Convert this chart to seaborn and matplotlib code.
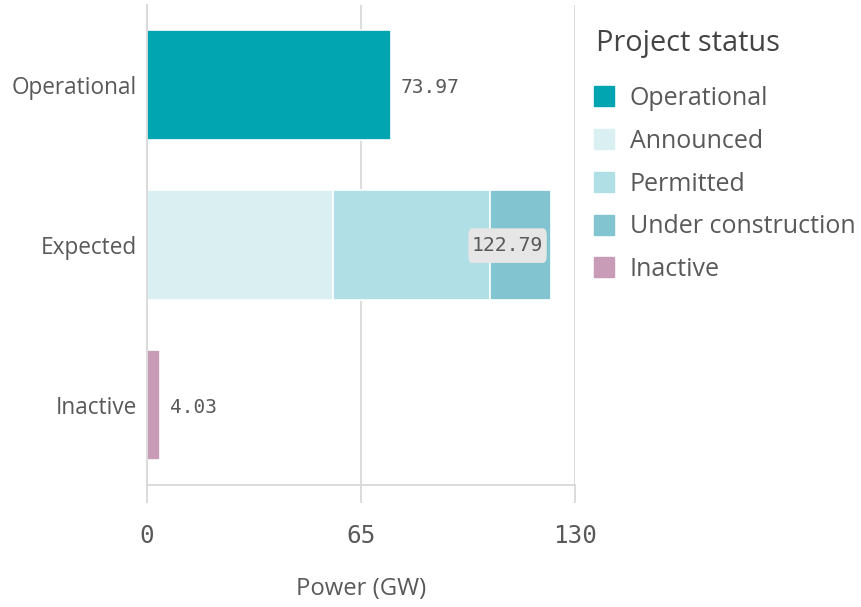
import matplotlib
matplotlib.use("Agg")
import matplotlib.pyplot as plt
from matplotlib.lines import Line2D
import pandas as pd
import seaborn as sns

# Capacity by project status (GW)
categories = ["Operational", "Expected", "Inactive"]
statuses = ["Operational", "Announced", "Permitted", "Under construction", "Inactive"]
row_category = ["Operational", "Expected", "Expected", "Expected", "Inactive"]
power_gw = [73.97, 56.40, 47.90, 18.49, 4.03]
totals = [73.97, 122.79, 4.03]
x_ticks = [0, 65, 130]

palette = {
    "Operational": "#00a5b1",
    "Announced": "#daeff2",
    "Permitted": "#b0e0e6",
    "Under construction": "#82c5d0",
    "Inactive": "#c89bb6",
}

sans = ["Open Sans", "DejaVu Sans"]
mono = ["DejaVu Sans Mono"]
text_grey = "#595959"
line_grey = "#d6d6d6"

sns.set_theme(style="white")
plt.rcParams["font.family"] = sans

df = pd.DataFrame({"category": row_category, "status": statuses, "power": power_gw})
df["stack_end"] = df.groupby("category", sort=False)["power"].cumsum()

fig = plt.figure(figsize=(8.61, 6.07), dpi=100)
ax = fig.add_axes([0.1707, 0.201, 0.4971, 0.791])

# stacked segments: draw the longest cumulative layer first, shorter ones on top
for status in reversed(statuses):
    layer = df[df["status"] == status]
    sns.barplot(data=layer, x="stack_end", y="category", order=categories,
                color=palette[status], saturation=1, width=0.69,
                edgecolor="white", linewidth=1.2, ax=ax, zorder=2)

ax.set_xlim(0, 130)
ax.set_ylim(2.5, -0.5)
ax.set_xticks(x_ticks)
ax.set_xticklabels([str(t) for t in x_ticks], family=mono, fontsize=17.5, color=text_grey)
ax.tick_params(axis="x", length=13, width=1.2, color=line_grey, pad=15, bottom=True)
ax.tick_params(axis="y", length=0, pad=7, labelsize=16.3, labelcolor=text_grey)
for lbl in ax.get_yticklabels():
    lbl.set_family(sans)

ax.grid(axis="x", color=line_grey, linewidth=1.2, zorder=0)
ax.set_axisbelow(True)
for side in ["top", "right"]:
    ax.spines[side].set_visible(False)
for side in ["left", "bottom"]:
    ax.spines[side].set_color(line_grey)
    ax.spines[side].set_linewidth(1.2)

ax.set_ylabel("")
ax.set_xlabel("Power (GW)", fontsize=17.2, color=text_grey, labelpad=21, family=sans)

# total labels
for cat, total in zip(categories, totals):
    if total > 100:
        ax.annotate(f"{total:.2f}", xy=(total, cat), xytext=(-5.8, -0.5),
                    textcoords="offset points", ha="right", va="center",
                    family=mono, fontsize=14.2, color=text_grey, zorder=5,
                    bbox=dict(boxstyle="round,pad=0.18,rounding_size=0.18",
                              mutation_aspect=2.2, fc="#e6e6e6", ec="none"))
    else:
        ax.annotate(f"{total:.2f}", xy=(total, cat), xytext=(7, -2),
                    textcoords="offset points", ha="left", va="center",
                    family=mono, fontsize=14, color=text_grey)

# legend
fig.text(596 / 861, 1 - 43 / 607, "Project status", ha="left", va="center",
         fontsize=20.8, color="#444444", family=sans)
handles = [Line2D([0], [0], marker="s", linestyle="none", markersize=14.4,
                  markerfacecolor=palette[s], markeredgecolor=palette[s])
           for s in statuses]
leg = fig.legend(handles, statuses, loc="upper left",
                 bbox_to_anchor=(0.690, 0.858), frameon=False, fontsize=18,
                 handletextpad=0.62, labelspacing=0.71, borderaxespad=0,
                 borderpad=0, handlelength=0.8)
for t in leg.get_texts():
    t.set_color(text_grey)

fig.savefig("out.png", dpi=100)
